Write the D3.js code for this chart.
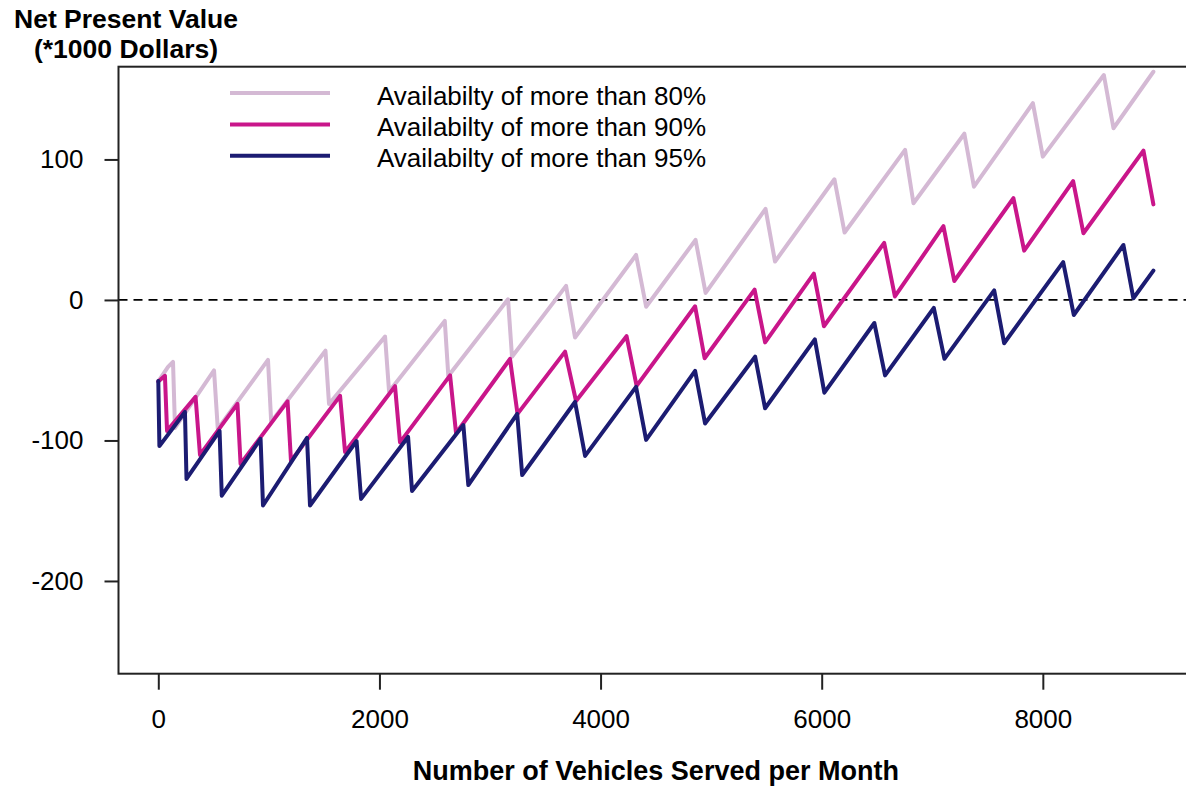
<!DOCTYPE html>
<html>
<head>
<meta charset="utf-8">
<script src="https://cdn.jsdelivr.net/npm/d3@7"></script>
<style>
  html, body { margin: 0; padding: 0; background: #fff; }
  svg { display: block; }
  text { font-family: "Liberation Sans", Arial, sans-serif; fill: #000; }
</style>
</head>
<body>
<svg id="chart" width="1186" height="789"></svg>
<script>
// Net present value (thousand dollars) against vehicles served per month,
// one sawtooth curve per availability target. Each [vehicles, NPV] pair is a
// corner of the curve: a peak before another charger is added, or the dip after it.
const avail80 = [
  [0, -58], [88, -47.7], [133, -44.1], [151, -91.1],
  [504, -50.2], [538, -91.8], [992, -42.7], [1021, -86.8],
  [1512, -36.1], [1544, -74.0], [2051, -26.1], [2087, -65.1],
  [2591, -14.9], [2623, -54.1], [3163, 0.5], [3199, -40.4],
  [3688, 10.0], [3769, -26.7], [4321, 32.0], [4412, -4.8],
  [4859, 42.7], [4950, 5.0], [5492, 64.8], [5578, 27.3],
  [6115, 85.9], [6207, 48.0], [6754, 106.8], [6830, 68.8],
  [7290, 118.3], [7377, 80.6], [7910, 140.0], [8000, 102.0],
  [8552, 160.1], [8639, 122.2], [9000, 162.4]
];
const avail90 = [
  [0, -58], [60, -54], [79, -93.2],
  [337, -69.0], [377, -110.3], [716, -74.0], [744, -116.7],
  [1169, -72.2], [1200, -114.6], [1644, -68.3], [1689, -108.2],
  [2141, -61.4], [2186, -101.4], [2639, -53.7], [2693, -94.9],
  [3181, -42.0], [3249, -81.1], [3679, -36.8], [3778, -71.9],
  [4235, -25.8], [4326, -61.2], [4855, -4.5], [4941, -41.5],
  [5393, 7.3], [5488, -30.2], [5929, 18.7], [6020, -18.7],
  [6565, 40.6], [6662, 2.5], [7101, 52.5], [7199, 13.5],
  [7734, 72.4], [7831, 35.1], [8274, 84.6], [8367, 47.5],
  [8910, 106.3], [9000, 68.0]
];
const avail95 = [
  [0, -57.7], [10, -104],
  [241, -79.7], [255, -127.4], [554, -93.2], [574, -139.3],
  [925, -98.9], [947, -146.3], [1345, -98.2], [1372, -146.3],
  [1793, -100.4], [1834, -141.6], [2259, -97.5], [2295, -135.9],
  [2759, -89.0], [2804, -131.7], [3246, -81.1], [3291, -124.6],
  [3769, -72.6], [3860, -111.0], [4321, -61.9], [4412, -99.6],
  [4855, -50.5], [4945, -87.9], [5398, -40.4], [5488, -77.1],
  [5938, -28.1], [6024, -66.0], [6476, -16.4], [6573, -53.7],
  [7014, -5.7], [7110, -41.9], [7560, 6.8], [7650, -30.8],
  [8184, 26.9], [8280, -10.7], [8729, 39.1], [8819, 1.2],
  [9000, 20.9]
];

const seriesLabels = [
  "Availabilty of more than 80%",
  "Availabilty of more than 90%",
  "Availabilty of more than 95%"
];
const seriesColors = ["#d4b9d4", "#c9168a", "#1c1c72"];
const xTicks = [0, 2000, 4000, 6000, 8000];
const yTicks = [-200, -100, 0, 100];
const xTitle = "Number of Vehicles Served per Month";
const yTitle = ["Net Present Value", "(*1000 Dollars)"];

const svg = d3.select("#chart");
const FONT = 26;
const plainNumber = d => String(d);   // ASCII hyphen for negatives

// Plot region (data range padded 4% on each side)
const x = d3.scaleLinear().domain([-360, 9360]).range([118.5, 1193.2]);
const y = d3.scaleLinear().domain([-266, 166]).range([673.7, 66.7]);

// Zero reference line
svg.append("line")
  .attr("x1", x(-360)).attr("x2", x(9360))
  .attr("y1", y(0)).attr("y2", y(0))
  .attr("stroke", "#000").attr("stroke-width", 1.8)
  .attr("stroke-dasharray", "9,6");

// Curves
const line = d3.line().x(d => x(d[0])).y(d => y(d[1]));
[avail80, avail90, avail95].forEach((data, i) => {
  svg.append("path")
    .datum(data)
    .attr("d", line)
    .attr("fill", "none")
    .attr("stroke", seriesColors[i])
    .attr("stroke-width", 4)
    .attr("stroke-linejoin", "round")
    .attr("stroke-linecap", "round");
});

// Frame
svg.append("rect")
  .attr("x", x(-360)).attr("y", y(166))
  .attr("width", x(9360) - x(-360)).attr("height", y(-266) - y(166))
  .attr("fill", "none").attr("stroke", "#222").attr("stroke-width", 2);

// Axes
const xAxis = d3.axisBottom(x).tickValues(xTicks).tickSize(16).tickPadding(20)
  .tickFormat(plainNumber);
const gx = svg.append("g").attr("transform", `translate(0,${y(-266)})`).call(xAxis);
gx.select(".domain").remove();
gx.selectAll(".tick line").attr("stroke", "#222").attr("stroke-width", 2);
gx.selectAll(".tick text").attr("font-size", FONT).attr("fill", "#000")
  .attr("font-family", "Liberation Sans, Arial, sans-serif");

const yAxis = d3.axisLeft(y).tickValues(yTicks).tickSize(14).tickPadding(21)
  .tickFormat(plainNumber);
const gy = svg.append("g").attr("transform", `translate(${x(-360)},0)`).call(yAxis);
gy.select(".domain").remove();
gy.selectAll(".tick line").attr("stroke", "#222").attr("stroke-width", 2);
gy.selectAll(".tick text").attr("font-size", FONT).attr("fill", "#000")
  .attr("font-family", "Liberation Sans, Arial, sans-serif");

// Axis titles
svg.append("text")
  .attr("x", (x(-360) + x(9360)) / 2).attr("y", 780)
  .attr("text-anchor", "middle").attr("font-weight", "bold")
  .attr("font-size", 27).text(xTitle);

yTitle.forEach((t, i) => {
  svg.append("text")
    .attr("x", 126).attr("y", 28 + i * 30)
    .attr("text-anchor", "middle").attr("font-weight", "bold")
    .attr("font-size", 26.5).text(t);
});

// Legend
const legend = svg.append("g");
seriesLabels.forEach((label, i) => {
  const ly = 93 + i * 31.4;
  legend.append("line")
    .attr("x1", 230).attr("x2", 330).attr("y1", ly).attr("y2", ly)
    .attr("stroke", seriesColors[i]).attr("stroke-width", 4);
  legend.append("text")
    .attr("x", 377).attr("y", ly + 11.5)
    .attr("font-size", FONT).text(label);
});
</script>
</body>
</html>
